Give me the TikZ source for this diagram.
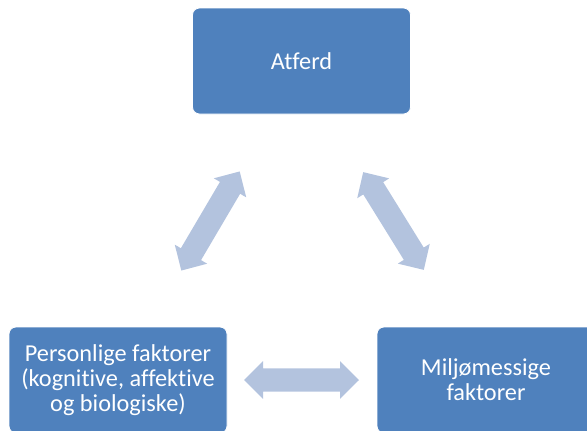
\documentclass[tikz,border=0pt]{standalone}
\usepackage{fontspec}
\setmainfont{Carlito}[Ligatures=NoCommon]
\definecolor{boxblue}{HTML}{4F81BD}
\definecolor{arrowblue}{HTML}{B3C3DE}
\tikzset{
  stagebox/.style={rectangle, rounded corners=7pt, fill=boxblue, draw=white, line width=0.8pt,
    minimum width=218pt, minimum height=106pt, inner sep=0pt, text=white, align=center,
    font=\fontsize{24.3}{25}\selectfont},
  pics/dblarrow/.style={code={
    \fill[arrowblue] (-57.5,0) -- (-38.5,18.8) -- (-38.5,11.7) -- (38.5,11.7) -- (38.5,18.8)
      -- (57.5,0) -- (38.5,-18.8) -- (38.5,-11.7) -- (-38.5,-11.7) -- (-38.5,-18.8) -- cycle;
  }}
}
\begin{document}
\begin{tikzpicture}[x=1pt,y=-1pt]
\useasboundingbox (0,0) rectangle (587,431);
\clip (0,0) rectangle (587,431);
\node[stagebox] (atferd) at (301.5,61) {Atferd};
\node[stagebox] (person) at (118,380) {Personlige faktorer\\(kognitive, affektive\\og biologiske)};
\node[stagebox] (miljo) at (486,380) {Miljømessige\\faktorer};
\pic[rotate=59.5] (arrowleft) at (210.5,221) {dblarrow};
\pic[rotate=-58.2] (arrowright) at (393.5,221) {dblarrow};
\pic (arrowbottom) at (301.5,380) {dblarrow};
\end{tikzpicture}
\end{document}
